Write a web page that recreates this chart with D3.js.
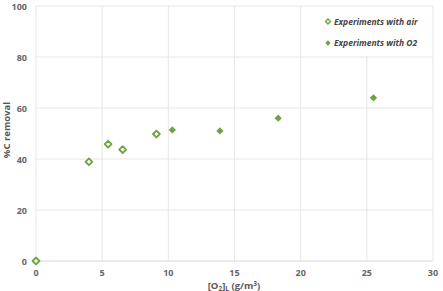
<!DOCTYPE html>
<html>
<head>
<meta charset="utf-8">
<script src="https://cdn.jsdelivr.net/npm/d3@7"></script>
<style>
  body { margin: 0; background: #fff; }
  text { font-family: "Open Sans", sans-serif; }
</style>
</head>
<body>
<div id="chart"></div>
<script>
// values
var airX = [0, 4.0, 5.45, 6.55, 9.1];
var airY = [0, 38.9, 45.8, 43.7, 49.8];
var o2X = [10.3, 13.9, 18.3, 25.5];
var o2Y = [51.4, 51.0, 56.0, 64.0];
var xTicks = [0, 5, 10, 15, 20, 25, 30];
var yTicks = [0, 20, 40, 60, 80, 100];
var legendLabels = ["Experiments with air", "Experiments with O2"];

var width = 443,
    height = 291;

var svg = d3.select("#chart").append("svg")
    .attr("width", width)
    .attr("height", height);

var x = d3.scaleLinear().domain([0, 30]).range([36, 433]);
var y = d3.scaleLinear().domain([0, 100]).range([261, 6]);

var green = "#6ea246";

// grid
svg.append("g").selectAll("line.v")
    .data(xTicks)
    .enter().append("line")
    .attr("x1", function(d) { return x(d); })
    .attr("x2", function(d) { return x(d); })
    .attr("y1", y(100))
    .attr("y2", y(0))
    .attr("stroke", "#e6e6e6")
    .attr("stroke-width", 1);

svg.append("g").selectAll("line.h")
    .data(yTicks)
    .enter().append("line")
    .attr("x1", x(0))
    .attr("x2", x(30))
    .attr("y1", function(d) { return y(d); })
    .attr("y2", function(d) { return y(d); })
    .attr("stroke", function(d) { return d == 0 ? "#d9d9d9" : "#e6e6e6"; })
    .attr("stroke-width", 1);

// legend background covers the grid
svg.append("rect")
    .attr("x", 312).attr("y", y(100) + 1)
    .attr("width", 120).attr("height", y(80) - y(100) - 2)
    .attr("fill", "#fff");

// tick labels
svg.append("g").selectAll("text")
    .data(yTicks)
    .enter().append("text")
    .attr("x", 27)
    .attr("y", function(d) { return y(d) + 3.5; })
    .attr("text-anchor", "end")
    .attr("font-size", 9)
    .attr("font-weight", "bold")
    .attr("fill", "#666")
    .text(function(d) { return d; });

svg.append("g").selectAll("text")
    .data(xTicks)
    .enter().append("text")
    .attr("x", function(d) { return x(d); })
    .attr("y", 276)
    .attr("text-anchor", "middle")
    .attr("font-size", 9)
    .attr("font-weight", "bold")
    .attr("fill", "#666")
    .text(function(d) { return d; });

// axis titles
svg.append("text")
    .attr("transform", "translate(10," + 130 + ") rotate(-90)")
    .attr("text-anchor", "middle")
    .attr("font-size", 9.5)
    .attr("font-weight", "bold")
    .attr("fill", "#595959")
    .text("%C removal");

var xt = svg.append("text")
    .attr("x", 234)
    .attr("y", 289)
    .attr("text-anchor", "middle")
    .attr("font-size", 9.5)
    .attr("font-weight", "bold")
    .attr("fill", "#595959");
xt.append("tspan").text("[O");
xt.append("tspan").attr("font-size", 6.5).attr("dy", 1.5).text("2");
xt.append("tspan").attr("dy", -1.5).text("]");
xt.append("tspan").attr("font-size", 6.5).attr("dy", 1.5).text("L");
xt.append("tspan").attr("dy", -1.5).text("  (g/m");
xt.append("tspan").attr("font-size", 6.5).attr("dy", -3).text("3");
xt.append("tspan").attr("dy", 3).text(")");

// points
var diamond = d3.symbol().type(d3.symbolDiamond2);

var air = airX.map(function(d, i) { return [d, airY[i]]; });
var o2 = o2X.map(function(d, i) { return [d, o2Y[i]]; });

svg.append("g").selectAll("path")
    .data(air)
    .enter().append("path")
    .attr("d", diamond.size(30))
    .attr("transform", function(d) { return "translate(" + x(d[0]) + "," + y(d[1]) + ")"; })
    .attr("fill", "#f6f8e8")
    .attr("stroke", green)
    .attr("stroke-width", 1.8)
    .attr("stroke-linejoin", "round");

svg.append("g").selectAll("path")
    .data(o2)
    .enter().append("path")
    .attr("d", diamond.size(34))
    .attr("transform", function(d) { return "translate(" + x(d[0]) + "," + y(d[1]) + ")"; })
    .attr("fill", green);

// legend
var leg = svg.append("g");
leg.append("path")
    .attr("d", diamond.size(16))
    .attr("transform", "translate(328,21.5)")
    .attr("fill", "#f6f8e8")
    .attr("stroke", green)
    .attr("stroke-width", 1.4);
leg.append("path")
    .attr("d", diamond.size(18))
    .attr("transform", "translate(328,43)")
    .attr("fill", green);
leg.selectAll("text")
    .data(legendLabels)
    .enter().append("text")
    .attr("x", 334)
    .attr("y", function(d, i) { return i == 0 ? 24.5 : 46; })
    .attr("font-size", 8.5)
    .attr("font-weight", "bold")
    .attr("font-style", "italic")
    .attr("fill", "#444")
    .text(function(d) { return d; });
</script>
</body>
</html>
